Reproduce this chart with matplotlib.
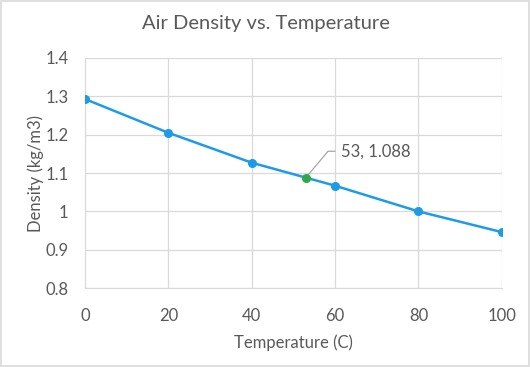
import matplotlib
matplotlib.use("Agg")
import matplotlib.pyplot as plt
from matplotlib.patches import Rectangle

temps = [0, 20, 40, 60, 80, 100]
density = [1.293, 1.205, 1.127, 1.067, 1.000, 0.946]
hl_x = 53
hl_y = 1.088
hl_label = "53, 1.088"
title = "Air Density vs. Temperature"
xlabel = "Temperature (C)"
ylabel = "Density (kg/m3)"

plt.rcParams['font.family'] = ['Lato', 'DejaVu Sans']
txt = '#595959'
blue = '#1E9BE6'

fig = plt.figure(figsize=(5.31, 3.67), dpi=100)
ax = fig.add_axes([0.160, 0.215, 0.785, 0.627])
ax.plot(temps, density, color=blue, lw=1.8, marker='o', ms=5.5, zorder=3)
ax.plot([hl_x], [hl_y], 'o', color='#2EA84A', ms=5.5, zorder=4)

ax.set_xlim(0, 100)
ax.set_ylim(0.8, 1.4)
ax.set_xticks(temps)
ax.set_yticks([0.8, 0.9, 1.0, 1.1, 1.2, 1.3, 1.4])
ax.set_yticklabels(['0.8', '0.9', '1', '1.1', '1.2', '1.3', '1.4'])
ax.grid(True, color='#D9D9D9', lw=0.9)
ax.set_axisbelow(True)
for s in ['top', 'right']:
    ax.spines[s].set_visible(False)
for s in ['left', 'bottom']:
    ax.spines[s].set_color('#D9D9D9')
ax.tick_params(length=0, colors=txt, labelsize=12)
ax.tick_params(axis='x', pad=14)
ax.tick_params(axis='y', pad=12)
ax.set_xlabel(xlabel, color=txt, fontsize=12, labelpad=8)
ax.set_ylabel(ylabel, color=txt, fontsize=12, labelpad=1)
fig.text(0.5, 0.935, title, ha='center', va='center', color=txt, fontsize=14.5)

ax.annotate(hl_label, xy=(hl_x, hl_y), xytext=(25, 19), textcoords='offset points',
            color=txt, fontsize=12, va='center', ha='left',
            arrowprops=dict(arrowstyle='-', color='#A6A6A6', lw=0.9,
                            connectionstyle='angle,angleA=0,angleB=50,rad=0',
                            shrinkA=2, shrinkB=3))

fig.patches.append(Rectangle((0.002, 0.003), 0.995, 0.993, transform=fig.transFigure,
                             fill=False, edgecolor='#D9D9D9', lw=1.2))
fig.savefig('out.png', dpi=100)
